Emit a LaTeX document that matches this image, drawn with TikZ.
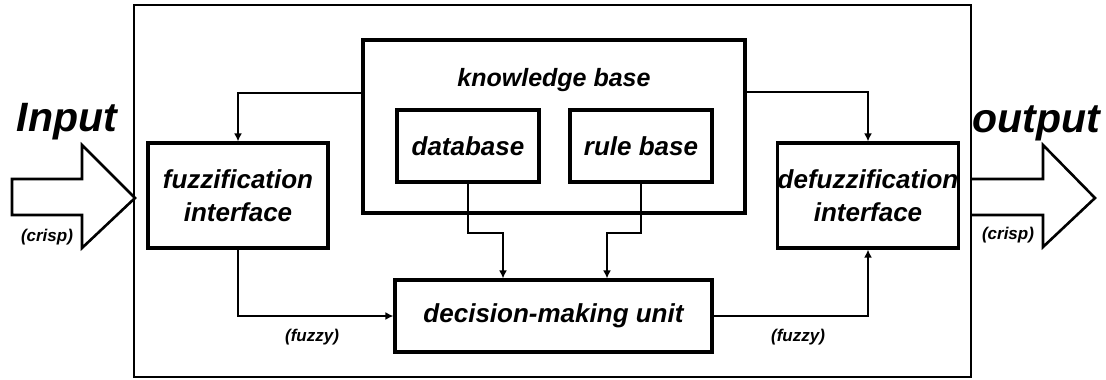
\documentclass[tikz,border=0pt]{standalone}
\usepackage{fontspec}
\setmainfont{Liberation Sans}
\usetikzlibrary{arrows.meta}
\begin{document}
\begin{tikzpicture}[x=1pt,y=-1pt,
  box/.style={draw,line width=3.2pt,rectangle,inner sep=0pt,align=center,
    font=\fontsize{26}{33}\selectfont\bfseries\itshape},
  conn/.style={line width=1.8pt,-{Latex[length=8pt,width=8pt]}},
  big/.style={font=\fontsize{41}{41}\selectfont\bfseries\itshape},
  small/.style={font=\fontsize{17}{17}\selectfont\bfseries\itshape},
  bigarrow/.style={draw,line width=2.6pt,line join=miter}]
\useasboundingbox (0,0) rectangle (1106,380);
% outer frame
\draw[line width=2.5pt] (134,5) rectangle (971,377);
% boxes
\node[box,line width=4pt,minimum width=382pt,minimum height=173pt] (kb) at (554,126.5) {};
\node[font=\fontsize{25}{25}\selectfont\bfseries\itshape] (kbt) at (554,80) {knowledge base};
\node[box,minimum width=142pt,minimum height=72pt] (db) at (468,146) {database};
\node[box,minimum width=142pt,minimum height=72pt] (rb) at (641,146) {rule base};
\node[box,minimum width=180pt,minimum height=105pt] (fuzz) at (238,195.5) {fuzzification\\interface};
\node[box,minimum width=180pt,minimum height=105pt] (defuzz) at (868,195.5) {defuzzification\\interface};
\node[box,minimum width=317pt,minimum height=72pt] (dmu) at (553.5,316) {decision-making unit};
% connectors
\draw[conn] (kb.west |- 0,93) -| (fuzz.north);
\draw[conn] (kb.east |- 0,92) -| (defuzz.north);
\draw[conn] (fuzz.south) |- (dmu.west);
\draw[conn] (dmu.east) -| (defuzz.south);
\draw[conn] (db.south) |- ++(35,49) coordinate (dbk) -- (dbk |- dmu.north);
\draw[conn] (rb.south) |- ++(-34,49) coordinate (rbk) -- (rbk |- dmu.north);
% big arrows
\draw[bigarrow] (12,179) -- (82,179) -- (82,145) -- (135,198) -- (82,248) -- (82,215) -- (12,215) -- cycle;
\draw[bigarrow] (971,179) -- (1043,179) -- (1043,145) -- (1095,198) -- (1043,247) -- (1043,215) -- (971,215);
% labels
\node[big,anchor=base] (in) at (67,131) {Input};
\node[big,anchor=base] (out) at (1036,132) {output};
\node[small] (cl) at (47,237) {(crisp)};
\node[small] (cr) at (1008,235) {(crisp)};
\node[small] (fl) at (312,337) {(fuzzy)};
\node[small] (fr) at (798,337) {(fuzzy)};
\end{tikzpicture}
\end{document}
